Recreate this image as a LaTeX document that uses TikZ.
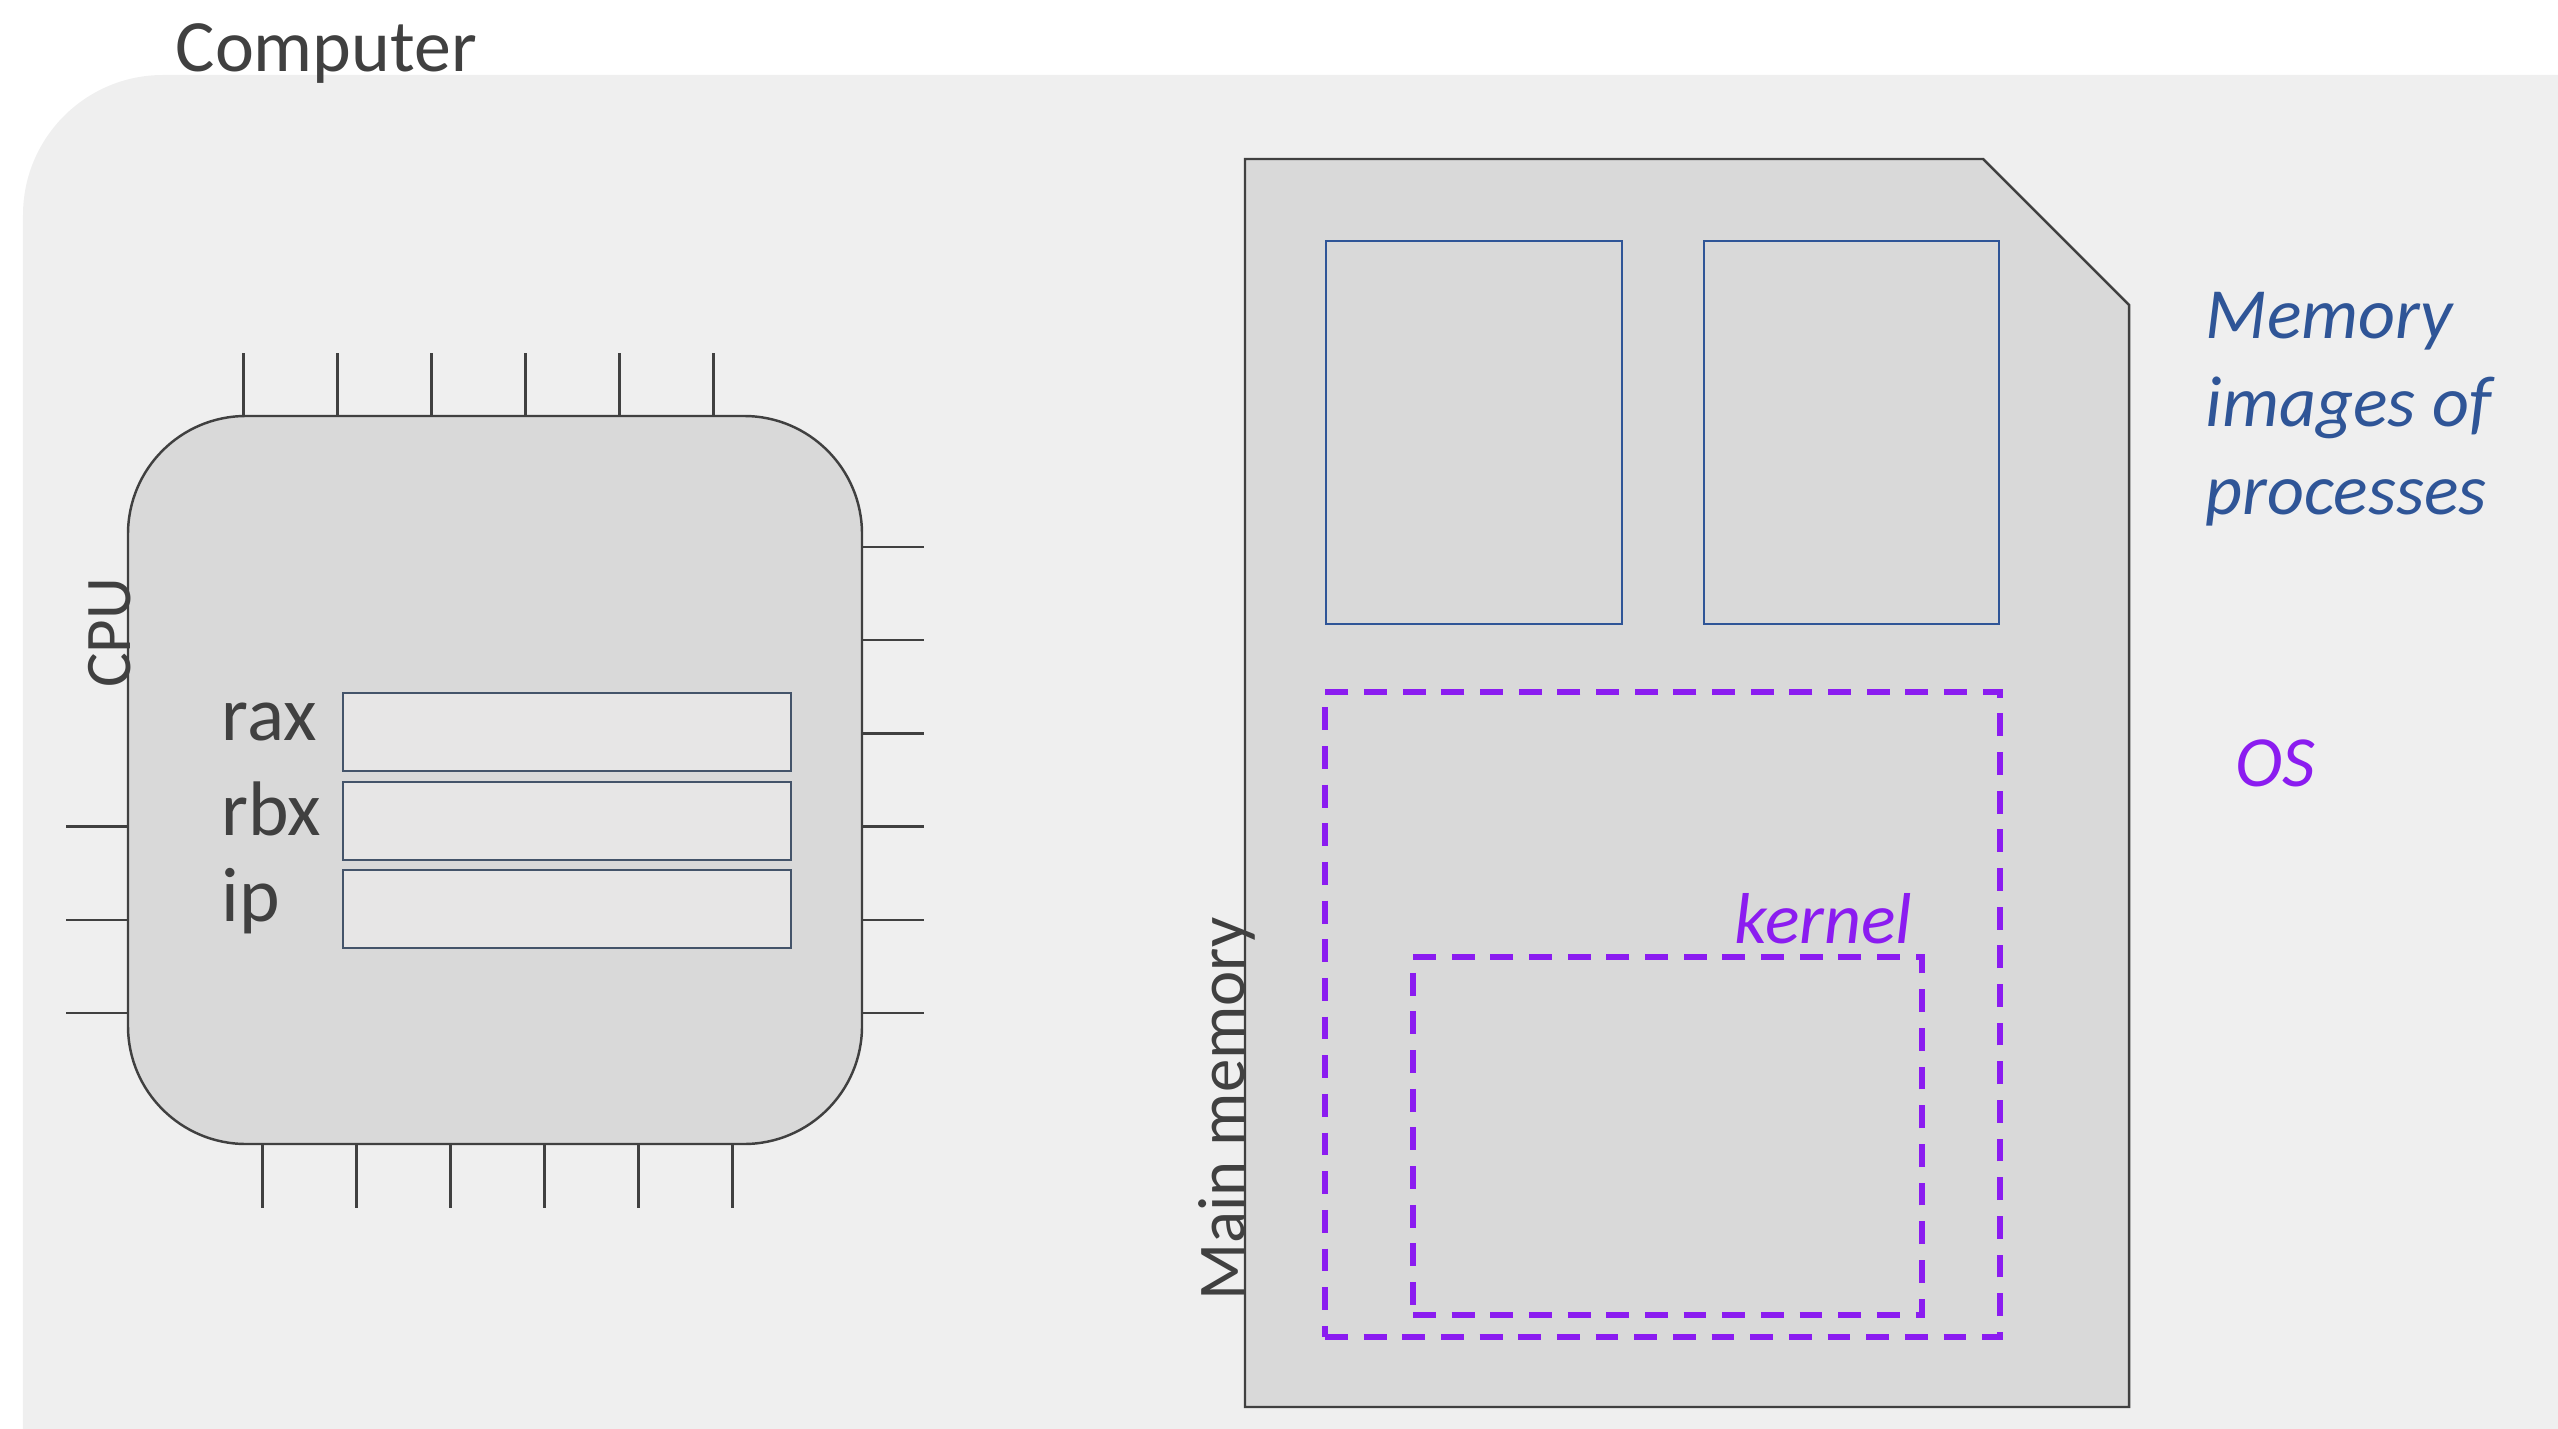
\documentclass[tikz,border=0pt]{standalone}
\usepackage{fontspec}
\setmainfont{Carlito}
\usepackage{xcolor}
\usetikzlibrary{positioning, calc}

\definecolor{bgfill}{HTML}{EFEFEF}
\definecolor{chipfill}{HTML}{D9D9D9}
\definecolor{regfill}{HTML}{E7E6E6}
\definecolor{regline}{HTML}{44546A}
\definecolor{ink}{HTML}{404040}
\definecolor{procblue}{HTML}{2F5597}
\definecolor{ospurple}{HTML}{8B1CF0}

\begin{document}
\begin{tikzpicture}[
  font=\fontsize{22}{26}\selectfont,
  chip/.style={draw=ink, line width=0.7pt, fill=chipfill,
               rounded corners=1.18cm, inner sep=0pt, outer sep=0pt,
               minimum width=7.34cm, minimum height=7.28cm},
  pinline/.style={ink, line width=0.7pt},
  register/.style={draw=regline, line width=0.6pt, fill=regfill,
                   inner sep=0pt, outer sep=0pt,
                   minimum width=4.48cm, minimum height=0.78cm},
  regname/.style={ink, anchor=base west, inner sep=0pt},
  sidelabel/.style={ink, rotate=90, anchor=base, inner sep=0pt,
                    font=\fontsize{18.5}{22}\selectfont},
  procbox/.style={draw=procblue, line width=0.8pt, inner sep=0pt,
                  outer sep=0pt, minimum height=3.83cm},
  osbox/.style={draw=ospurple, line width=1.7pt,
                dash pattern=on 6.5pt off 4.5pt, inner sep=0pt, outer sep=0pt},
  oslabel/.style={ospurple, inner sep=0pt,
                  font=\fontsize{20.5}{25}\selectfont\itshape},
]
\useasboundingbox (0,0) rectangle (25.58,14.28);
\clip (0,0) rectangle (25.58,14.28);

% Computer frame
\fill[bgfill, rounded corners=1.4cm] (0.23,-2) rectangle (28,13.53);
\node[ink, anchor=base west, inner sep=0pt, font=\fontsize{21}{25}\selectfont]
  (computer) at (1.75,13.56) {Computer};

% Left: CPU chip with its pins
\node[chip] (cpu) at (4.95,6.48) {};
\foreach \i in {0,...,5} {
  \draw[pinline] ($(cpu.north west)+(1.156+0.94*\i,0)$) -- ++(0,0.63);
  \draw[pinline] ($(cpu.south west)+(1.344+0.94*\i,0)$) -- ++(0,-0.64);
  \draw[pinline] ($(cpu.north east)+(0,-1.31-0.932*\i)$) -- ++(0.62,0);
}
\foreach \i in {3,4,5}
  \draw[pinline] ($(cpu.north west)+(0,-1.31-0.932*\i)$) -- ++(-0.62,0);
\node[sidelabel] (cpulabel) at (1.30,7.95) {CPU};

% Registers
\node[register] (regrax) at (5.67,6.96) {};
\node[register, below=0.11cm of regrax] (regrbx) {};
\node[register, below=0.1cm of regrbx] (regip) {};
\node[regname] (raxname) at (2.21,6.88) {rax};
\node[regname] (rbxname) at (2.21,5.93) {rbx};
\node[regname] (ipname)  at (2.21,5.07) {ip};

% Right: main memory
\draw[ink, line width=0.7pt, fill=chipfill]
  (12.45,0.21) -- (12.45,12.69) -- (19.83,12.69) -- (21.29,11.23)
  -- (21.29,0.21) -- cycle;
\node[sidelabel, font=\fontsize{19}{22}\selectfont] (memlabel) at (12.44,3.19) {Main memory};

% Process images
\node[procbox, minimum width=2.96cm] (proc1) at (14.74,9.955) {};
\node[procbox, minimum width=2.95cm] (proc2) at (18.515,9.955) {};
\node[procblue, anchor=north west, align=left, inner sep=0pt,
      font=\fontsize{20.5}{25}\selectfont\itshape] (proclabel)
  at (22.05,11.36) {Memory\\images of\\processes};

% OS and kernel
\node[osbox, minimum width=6.75cm, minimum height=6.45cm] (os) at (16.625,4.135) {};
\node[osbox, minimum width=5.09cm, minimum height=3.58cm] (kernel) at (16.675,2.92) {};
\node[oslabel, anchor=base east] (kernellabel) at (19.13,4.85) {kernel};
\node[oslabel, anchor=base west] (oslabel) at (22.35,6.42) {OS};

\end{tikzpicture}
\end{document}
